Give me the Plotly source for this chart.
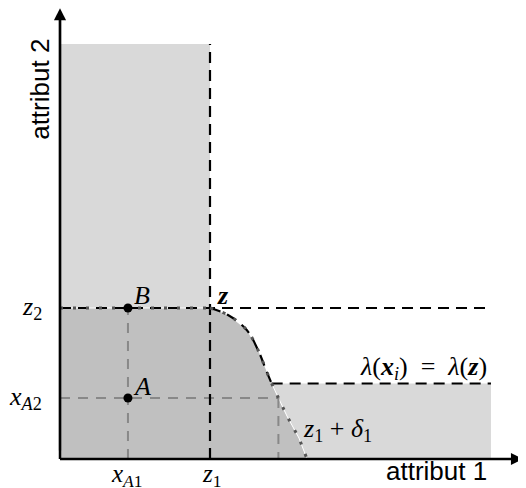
import plotly.graph_objects as go

# ---- data (abstract units: origin at axes crossing) ----
z1 = 1.0
z2 = 1.0
xA1 = 0.453
xA2 = 0.404
lam_level = 0.50          # level of lambda(x_i) = lambda(z) on the right
top_level = 2.748          # top of the upper light region
right_end = 2.873          # right end of regions / lines
# boundary curve from z down to the x axis (z1 + delta1)
curve_x = [1.0, 1.12, 1.245, 1.32, 1.378, 1.411]
curve_y = [1.0, 0.954, 0.854, 0.722, 0.578, 0.50]
tail_x = [1.411, 1.456, 1.513, 1.593, 1.647]
tail_y = [0.50, 0.404, 0.285, 0.139, 0.0]
point_x = [xA1, xA1]
point_y = [xA2, z2]
arrow_x_end = 3.087
arrow_y_end = 2.985

LIGHT = "#d9d9d9"
DARK = "#c0c0c0"
GRAYLINE = "#888888"
DOTS = "#555555"

fig = go.Figure()

# upper-left light region
fig.add_trace(go.Scatter(x=[0, z1, z1, 0, 0], y=[z2, z2, top_level, top_level, z2],
                         fill="toself", fillcolor=LIGHT, line=dict(width=0),
                         mode="lines", hoverinfo="skip"))
# lower-right light region
fig.add_trace(go.Scatter(x=tail_x + [right_end, right_end, tail_x[0]],
                         y=tail_y + [0, lam_level, tail_y[0]],
                         fill="toself", fillcolor=LIGHT, line=dict(width=0),
                         mode="lines", hoverinfo="skip"))
# dark region
dark_x = [0, 0] + curve_x + tail_x[1:] + [0]
dark_y = [0, z2] + curve_y + tail_y[1:] + [0]
fig.add_trace(go.Scatter(x=dark_x, y=dark_y, fill="toself", fillcolor=DARK,
                         line=dict(width=0), mode="lines", hoverinfo="skip"))
# thin white edge between dark and light
fig.add_trace(go.Scatter(x=tail_x, y=tail_y, mode="lines",
                         line=dict(color="white", width=1), hoverinfo="skip"))
fig.add_trace(go.Scatter(x=[0, z1], y=[z2, z2], mode="lines",
                         line=dict(color="white", width=1), hoverinfo="skip"))

# gray dashed helper lines
gl = dict(color=GRAYLINE, width=2, dash="10px,8px")
fig.add_trace(go.Scatter(x=[xA1, xA1], y=[0, z2], mode="lines", line=gl, hoverinfo="skip"))
fig.add_trace(go.Scatter(x=[0, tail_x[1]], y=[xA2, xA2], mode="lines", line=gl, hoverinfo="skip"))
fig.add_trace(go.Scatter(x=[tail_x[1], tail_x[1]], y=[xA2, 0], mode="lines", line=gl, hoverinfo="skip"))

# black dashed lines
bl = dict(color="black", width=2.2, dash="11px,7px")
fig.add_trace(go.Scatter(x=[0, right_end], y=[z2, z2], mode="lines", line=bl, hoverinfo="skip"))
fig.add_trace(go.Scatter(x=[z1, z1], y=[0, top_level], mode="lines", line=bl, hoverinfo="skip"))
fig.add_trace(go.Scatter(x=curve_x, y=curve_y, mode="lines",
                         line=dict(color="black", width=2.2, dash="11px,7px", shape="spline"),
                         hoverinfo="skip"))
fig.add_trace(go.Scatter(x=[curve_x[-1], right_end], y=[lam_level, lam_level], mode="lines",
                         line=bl, hoverinfo="skip"))

# gray dotted boundary
dl = dict(color=DOTS, width=3, dash="3px,10px")
fig.add_trace(go.Scatter(x=[0, z1], y=[z2, z2], mode="lines", line=dl, hoverinfo="skip"))
fig.add_trace(go.Scatter(x=curve_x, y=curve_y, mode="lines",
                         line=dict(color=DOTS, width=3, dash="3px,10px", shape="spline"),
                         hoverinfo="skip"))
fig.add_trace(go.Scatter(x=tail_x, y=tail_y, mode="lines", line=dl, hoverinfo="skip"))

# points A and B
fig.add_trace(go.Scatter(x=point_x, y=point_y, mode="markers",
                         marker=dict(color="black", size=9), hoverinfo="skip"))

# axes with arrows
fig.add_trace(go.Scatter(x=[0, arrow_x_end - 0.03], y=[0, 0], mode="lines",
                         line=dict(color="black", width=2.5), hoverinfo="skip"))
fig.add_trace(go.Scatter(x=[0, 0], y=[0, arrow_y_end - 0.03], mode="lines",
                         line=dict(color="black", width=2.5), hoverinfo="skip"))

ann = []
for (ex, ey) in [(arrow_x_end, 0), (0, arrow_y_end)]:
    ann.append(dict(x=ex, y=ey, ax=0, ay=0, xref="x", yref="y", axref="x", ayref="y",
                    showarrow=True, arrowhead=2, arrowsize=1.1, arrowwidth=2.2,
                    arrowcolor="black", text=" ", font=dict(size=10)))

SERIF = "Liberation Serif"
SANS = "Liberation Sans"


def label(x, y, text, size=26, family=SERIF, **kw):
    d = dict(x=x, y=y, xref="x", yref="y", text=text, showarrow=False,
             font=dict(family=family, size=size, color="black"), borderpad=0)
    d.update(kw)
    ann.append(d)


label(-0.187, z2, "<i>z</i><sub>2</sub>")
label(-0.233, xA2, "<i>x</i><sub><i>A</i>2</sub>")
label(xA1 - 0.006, -0.112, "<i>x</i><sub><i>A</i>1</sub>", size=25)
label(z1 + 0.007, -0.112, "<i>z</i><sub>1</sub>", size=25)
label(0.547, 1.086, "<i>B</i>")
label(0.547, 0.477, "<i>A</i>")
label(1.087, 1.086, "<b><i>z</i></b>")
label(2.42, 0.603,
      "<i>λ</i>(<b><i>x</i></b><sub><i>i</i></sub>)\u2002=\u2002<i>λ</i>(<b><i>z</i></b>)")
label(1.847, 0.192, "<i>z</i><sub>1</sub> + <i>δ</i><sub>1</sub>")
label(2.513, -0.08, "attribut 1", size=26, family=SANS)
label(-0.135, 2.45, "attribut 2", size=26, family=SANS, textangle=-90)

# The page body has an 8px margin: the figure is sized and its ranges set so that
# the drawing lands where it should in the 526x488 window.
fig.update_layout(
    width=518, height=480,
    margin=dict(l=0, r=0, t=0, b=0),
    paper_bgcolor="white", plot_bgcolor="white",
    showlegend=False,
    xaxis=dict(range=[-0.3467, 3.1067], visible=False, fixedrange=True),
    yaxis=dict(range=[-0.192, 2.9868], visible=False, fixedrange=True),
    annotations=ann,
)

fig.write_html("out.html")
